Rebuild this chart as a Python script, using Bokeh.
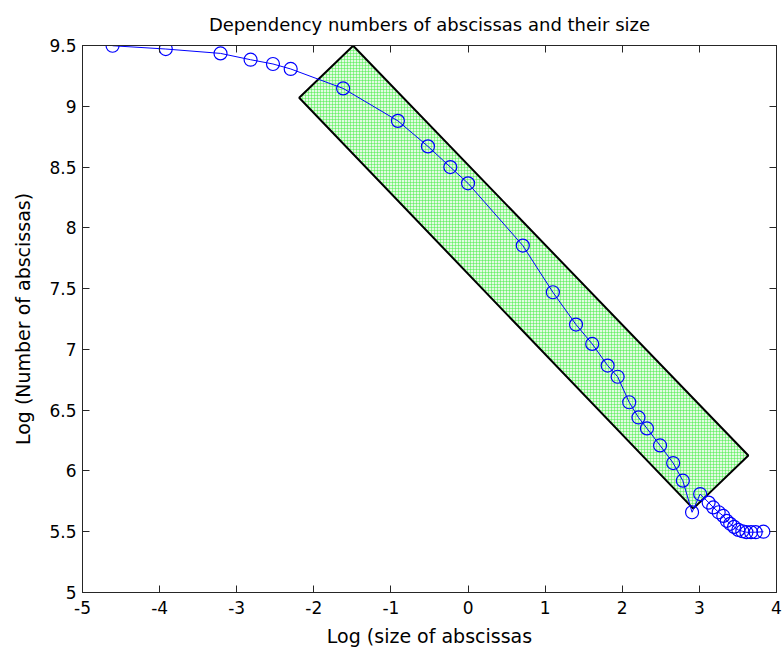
from bokeh.plotting import figure
from bokeh.models import Range1d, FixedTicker, LinearAxis, ColumnDataSource
from bokeh.embed import file_html
from bokeh.resources import INLINE

# ---- data ----
x_vals = [-4.61, -3.92, -3.21, -2.82, -2.53, -2.30, -1.62, -0.91, -0.52, -0.23,
          0.00, 0.71, 1.10, 1.40, 1.61, 1.81, 1.94, 2.09, 2.21, 2.32,
          2.49, 2.66, 2.785, 2.905, 3.01, 3.12, 3.18, 3.25, 3.31, 3.355,
          3.40, 3.45, 3.505, 3.557, 3.61, 3.67, 3.73, 3.83]
y_vals = [9.498, 9.471, 9.435, 9.383, 9.348, 9.307, 9.147, 8.88, 8.67, 8.50,
          8.366, 7.854, 7.47, 7.204, 7.045, 6.867, 6.775, 6.565, 6.44, 6.35,
          6.21, 6.065, 5.92, 5.66, 5.81, 5.74, 5.70, 5.66, 5.63, 5.59,
          5.565, 5.54, 5.515, 5.504, 5.496, 5.496, 5.496, 5.50]

# highlighted band (corners of the green rectangle)
band_x = [-1.49, 3.635, 2.92, -2.19]
band_y = [9.498, 6.127, 5.69, 9.07]

x_ticks = [-5, -4, -3, -2, -1, 0, 1, 2, 3, 4]
x_tick_labels = ["-5", "-4", "-3", "-2", "-1", "0", "1", "2", "3", "4"]
y_ticks = [5, 5.5, 6, 6.5, 7, 7.5, 8, 8.5, 9, 9.5]
y_tick_labels = ["5", "5.5", "6", "6.5", "7", "7.5", "8", "8.5", "9", "9.5"]

title_text = "Dependency numbers of abscissas and their size"
x_label = "Log (size of abscissas"
y_label = "Log (Number of abscissas)"

FONT = "DejaVu Sans"
AX = "#262626"

p = figure(frame_width=694, frame_height=547,
           x_range=Range1d(-5, 4), y_range=Range1d(5, 9.5),
           output_backend="svg", toolbar_location=None,
           min_border_left=82, min_border_right=7,
           min_border_top=45, min_border_bottom=62,
           title=title_text)
p.background_fill_color = "white"
p.border_fill_color = "white"
p.outline_line_color = AX
p.outline_line_width = 1
p.grid.visible = False

p.title.align = "center"
p.title.text_font = FONT
p.title.text_font_size = "18px"
p.title.text_font_style = "normal"
p.title.text_color = "black"
p.title.standoff = 22

def style_axis(ax, labels_on=True):
    ax.axis_line_color = AX
    ax.major_tick_line_color = AX
    ax.major_tick_in = 7
    ax.major_tick_out = 0
    ax.minor_tick_line_color = None
    ax.major_label_text_font = FONT
    ax.major_label_text_color = "black"
    ax.axis_label_text_font = FONT
    ax.axis_label_text_font_style = "normal"
    ax.axis_label_text_color = "black"
    ax.axis_label_text_font_size = "19px"
    if labels_on:
        ax.major_label_text_font_size = "17px"
    else:
        ax.major_label_text_font_size = "1px"
        ax.major_label_text_color = None
        ax.major_label_standoff = 0

p.xaxis.ticker = FixedTicker(ticks=x_ticks)
p.yaxis.ticker = FixedTicker(ticks=y_ticks)
p.xaxis.major_label_overrides = dict(zip(x_ticks, x_tick_labels))
p.yaxis.major_label_overrides = {float(k): v for k, v in zip(y_ticks, y_tick_labels)}
p.yaxis.major_label_overrides.update({k: v for k, v in zip(y_ticks, y_tick_labels) if float(k).is_integer()})
style_axis(p.xaxis[0])
style_axis(p.yaxis[0])
p.xaxis.axis_label = x_label
p.yaxis.axis_label = y_label
p.xaxis.major_label_standoff = 8
p.yaxis.major_label_standoff = 6
p.xaxis.axis_label_standoff = 8
p.yaxis.axis_label_standoff = 12

top_ax = LinearAxis(ticker=FixedTicker(ticks=x_ticks))
right_ax = LinearAxis(ticker=FixedTicker(ticks=y_ticks))
style_axis(top_ax, labels_on=False)
style_axis(right_ax, labels_on=False)
p.add_layout(top_ax, "above")
p.add_layout(right_ax, "right")

# green band
p.patch(band_x, band_y, fill_color="#e2fae2", fill_alpha=1.0,
        hatch_pattern="+", hatch_scale=3, hatch_color="#44ee44",
        hatch_weight=0.6, hatch_alpha=0.85,
        line_color="black", line_width=2)

src = ColumnDataSource(data=dict(x=x_vals, y=y_vals))
p.line("x", "y", source=src, line_color="#0000ff", line_width=1)
p.scatter("x", "y", source=src, marker="circle", size=13,
          fill_color=None, line_color="#0000ff", line_width=1.2)

open("out.html", "w").write(file_html(p, INLINE))
